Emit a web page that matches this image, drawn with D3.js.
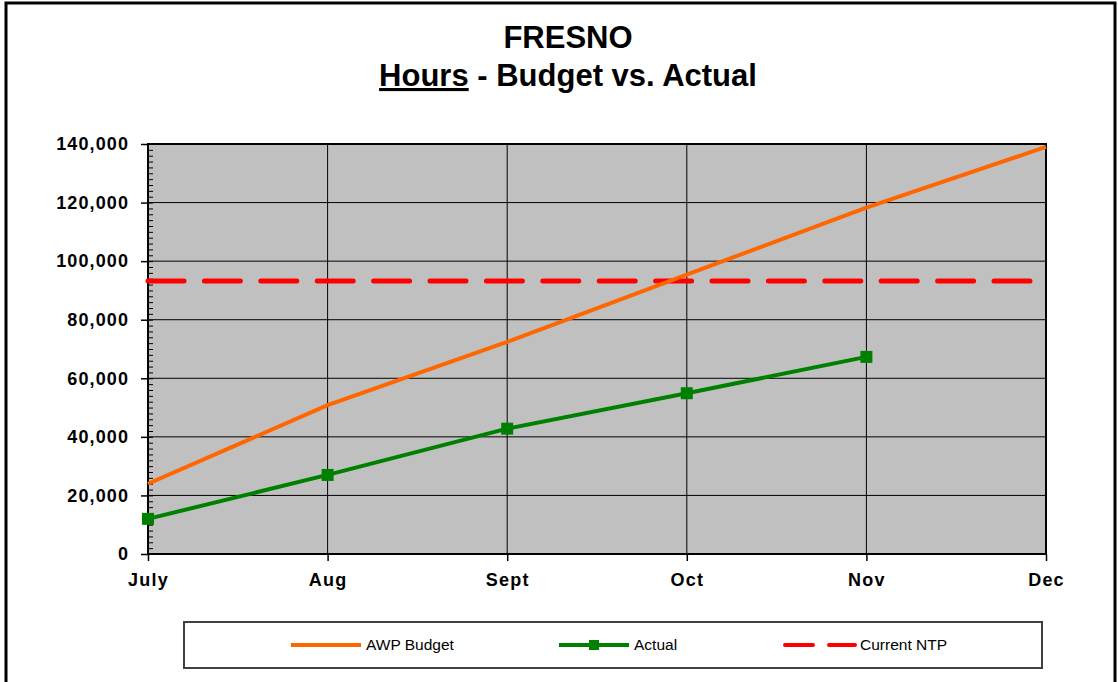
<!DOCTYPE html>
<html>
<head>
<meta charset="utf-8">
<script src="https://cdn.jsdelivr.net/npm/d3@7"></script>
<style>
  body { margin: 0; background: #fff; }
  svg { display: block; font-family: "Liberation Sans", Arial, sans-serif; }
</style>
</head>
<body>
<svg id="chart" width="1118" height="682"></svg>
<script>
// values
const months = ["July", "Aug", "Sept", "Oct", "Nov", "Dec"];
const budget = [24000, 50800, 72400, 95400, 118300, 139000];
const actual = [12000, 27000, 42800, 54900, 67300];
const ntp = [93200, 93200, 93200, 93200, 93200, 93200];
const yTicks = [0, 20000, 40000, 60000, 80000, 100000, 120000, 140000];

const svg = d3.select("#chart");
const plotLeft = 148, plotRight = 1046, plotTop = 144, plotBottom = 554;

const x = d3.scalePoint().domain(months).range([plotLeft, plotRight]);
const y = d3.scaleLinear().domain([0, 140000]).range([plotBottom, plotTop]);

// outer chart border (bottom edge falls outside the picture)
svg.append("rect")
    .attr("x", 6).attr("y", 3)
    .attr("width", 1109).attr("height", 700)
    .attr("fill", "#fff").attr("stroke", "#000").attr("stroke-width", 3);

// title
const title = svg.append("text")
    .attr("text-anchor", "middle")
    .attr("font-weight", "bold")
    .attr("font-size", 31);
title.append("tspan").attr("x", 568).attr("y", 48).text("FRESNO");
const t2 = title.append("tspan").attr("x", 568).attr("y", 86);
t2.append("tspan").style("text-decoration", "underline").text("Hours");
t2.append("tspan").text(" - Budget vs. Actual");

// plot background
svg.append("rect")
    .attr("x", plotLeft).attr("y", plotTop)
    .attr("width", plotRight - plotLeft).attr("height", plotBottom - plotTop)
    .attr("fill", "#c0c0c0");

// grid
svg.append("g")
    .selectAll("line")
    .data(yTicks)
    .join("line")
    .attr("x1", plotLeft).attr("x2", plotRight)
    .attr("y1", d => y(d)).attr("y2", d => y(d))
    .attr("stroke", "#000").attr("stroke-width", 1);

svg.append("g")
    .selectAll("line")
    .data(months)
    .join("line")
    .attr("x1", d => x(d)).attr("x2", d => x(d))
    .attr("y1", plotTop).attr("y2", plotBottom)
    .attr("stroke", "#000").attr("stroke-width", 1);

// minor ticks inside the y axis
svg.append("g")
    .attr("transform", `translate(${plotLeft},0)`)
    .call(d3.axisRight(y).tickValues(d3.range(0, 140001, 2000)).tickSize(5).tickFormat(""))
    .call(g => g.select(".domain").remove())
    .call(g => g.selectAll("line").attr("stroke", "#000").attr("stroke-width", 1));

// y axis
svg.append("g")
    .attr("transform", `translate(${plotLeft},0)`)
    .call(d3.axisLeft(y).tickValues(yTicks).tickSize(7).tickPadding(12).tickFormat(d3.format(",")))
    .call(g => g.select(".domain").remove())
    .call(g => g.selectAll("line").attr("stroke", "#000").attr("stroke-width", 1.5))
    .call(g => g.selectAll("text")
        .attr("fill", "#000")
        .attr("font-family", "Liberation Sans, Arial, sans-serif")
        .attr("font-size", 18)
        .attr("font-weight", "bold")
        .attr("letter-spacing", 1.1));

// x axis
svg.append("g")
    .attr("transform", `translate(0,${plotBottom})`)
    .call(d3.axisBottom(x).tickSize(7).tickPadding(12))
    .call(g => g.select(".domain").remove())
    .call(g => g.selectAll("line").attr("stroke", "#000").attr("stroke-width", 1.5))
    .call(g => g.selectAll("text")
        .attr("fill", "#000")
        .attr("font-family", "Liberation Sans, Arial, sans-serif")
        .attr("font-size", 18)
        .attr("font-weight", "bold")
        .attr("letter-spacing", 1.2));

// plot border
svg.append("rect")
    .attr("x", plotLeft).attr("y", plotTop)
    .attr("width", plotRight - plotLeft).attr("height", plotBottom - plotTop)
    .attr("fill", "none").attr("stroke", "#000").attr("stroke-width", 2);

const line = d3.line()
    .x((d, i) => x(months[i]))
    .y(d => y(d));

// current NTP
svg.append("path")
    .datum(ntp)
    .attr("d", line)
    .attr("fill", "none")
    .attr("stroke", "#ff0000")
    .attr("stroke-width", 5)
    .attr("stroke-linecap", "round")
    .attr("stroke-dasharray", "36 20.4");

// AWP budget
svg.append("path")
    .datum(budget)
    .attr("d", line)
    .attr("fill", "none")
    .attr("stroke", "#ff6600")
    .attr("stroke-width", 4);

// actual
svg.append("path")
    .datum(actual)
    .attr("d", line)
    .attr("fill", "none")
    .attr("stroke", "#008000")
    .attr("stroke-width", 4);

svg.append("g")
    .selectAll("rect")
    .data(actual)
    .join("rect")
    .attr("x", (d, i) => x(months[i]) - 6)
    .attr("y", d => y(d) - 6)
    .attr("width", 12).attr("height", 12)
    .attr("fill", "#008000");

// legend
const legend = svg.append("g");
legend.append("rect")
    .attr("x", 184).attr("y", 622)
    .attr("width", 858).attr("height", 46)
    .attr("fill", "#fff").attr("stroke", "#404040").attr("stroke-width", 2);

const ly = 645;
const items = [
  { label: "AWP Budget", color: "#ff6600", x0: 291, dash: null, marker: false },
  { label: "Actual", color: "#008000", x0: 559, dash: null, marker: true },
  { label: "Current NTP", color: "#ff0000", x0: 785, dash: "28 16", marker: false }
];
items.forEach(it => {
  legend.append("line")
      .attr("x1", it.x0).attr("x2", it.x0 + 70)
      .attr("y1", ly).attr("y2", ly)
      .attr("stroke", it.color).attr("stroke-width", 4)
      .attr("stroke-linecap", it.dash ? "round" : "butt")
      .attr("stroke-dasharray", it.dash);
  if (it.marker) {
    legend.append("rect")
        .attr("x", it.x0 + 35 - 5).attr("y", ly - 5)
        .attr("width", 10).attr("height", 10)
        .attr("fill", it.color);
  }
  legend.append("text")
      .attr("x", it.x0 + 75).attr("y", ly + 5)
      .attr("font-size", 15.5)
      .attr("fill", "#000")
      .text(it.label);
});
</script>
</body>
</html>
